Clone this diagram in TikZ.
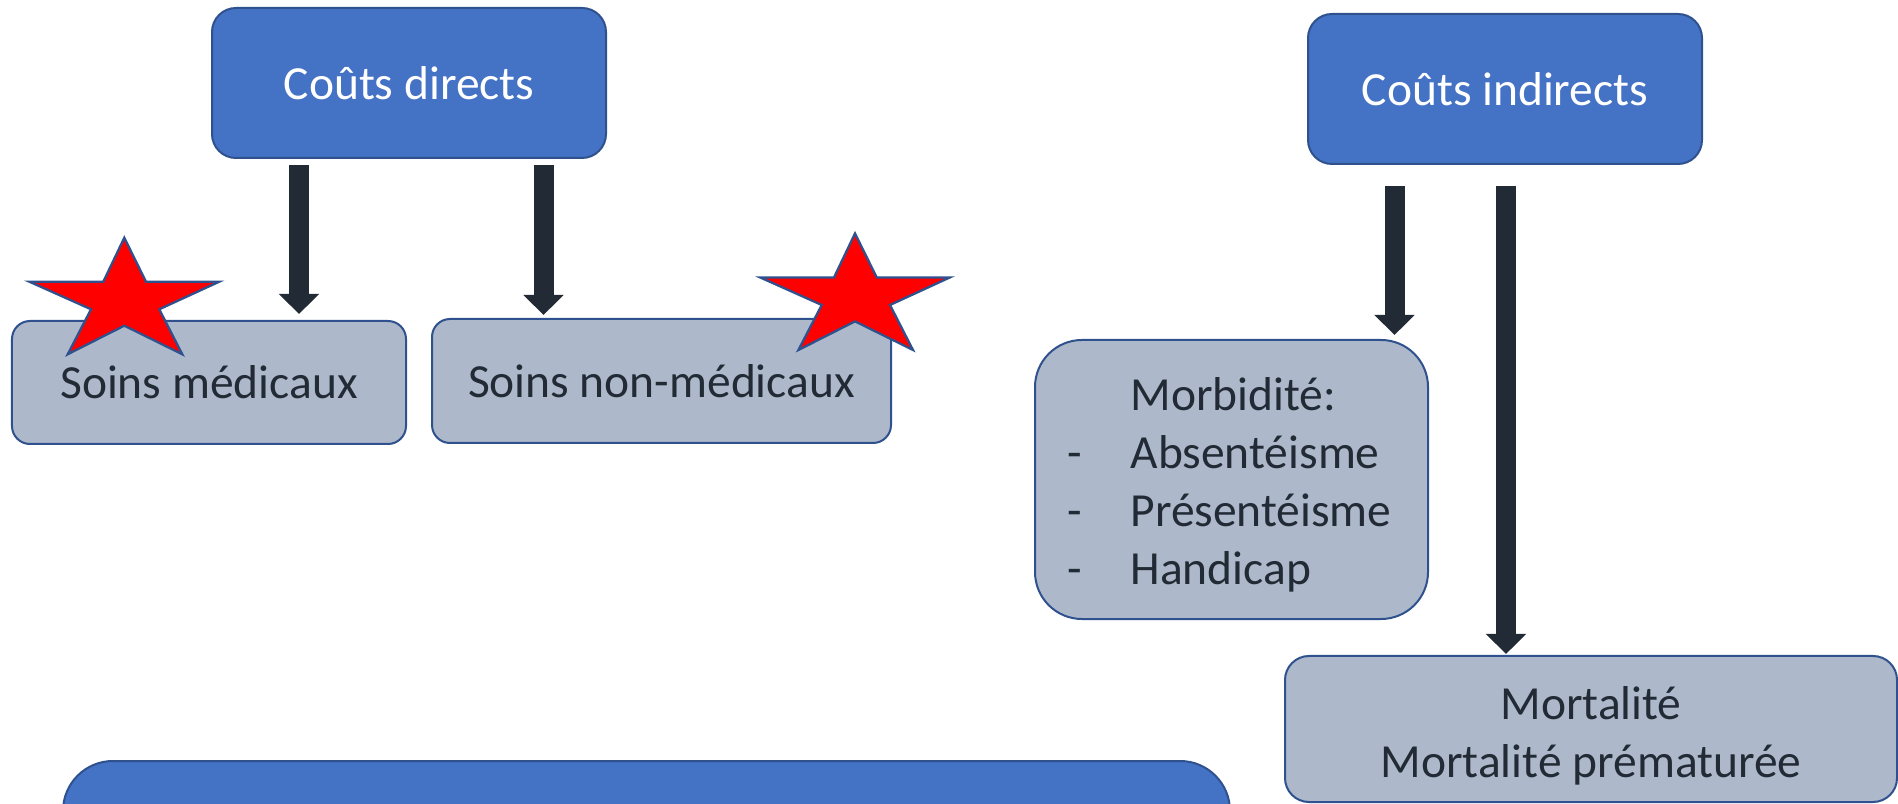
\documentclass[tikz,border=0pt]{standalone}
\usepackage{fontspec}
\setmainfont{Carlito}
\usetikzlibrary{arrows.meta,calc}
\definecolor{boxblue}{HTML}{4472C4}
\definecolor{edgeblue}{HTML}{2F528F}
\definecolor{boxgray}{HTML}{ADB9CA}
\definecolor{darktext}{HTML}{222A35}
\begin{document}
\begin{tikzpicture}[x=0.4pt,y=-0.4pt,
  basefont/.style={font=\fontsize{19}{23}\selectfont},
  bluebox/.style={draw=edgeblue, fill=boxblue, line width=0.8pt, rounded corners=9.6pt,
    text=white, basefont, inner sep=0pt},
  graybox/.style={draw=edgeblue, fill=boxgray, line width=0.8pt, rounded corners=7.2pt,
    text=darktext, basefont, inner sep=0pt},
  txt/.style={text=darktext, basefont, inner sep=0pt},
  blockarrow/.style={draw=darktext, line width=8pt, -{Triangle[width=15.6pt,length=8pt]}},
  starshape/.style={fill=red, draw=edgeblue, line width=0.9pt, line join=miter}
]
\path[use as bounding box] (0,0) rectangle (1898,804);
\clip (0,0) rectangle (1898,804);

% top boxes
\node[bluebox, minimum width=157.6pt, minimum height=60pt] (cd) at (409,83) {Coûts directs};
\node[bluebox, minimum width=157.6pt, minimum height=60pt] (ci) at (1505,89) {Coûts indirects};

% direct cost children
\node[graybox, minimum width=157.6pt, minimum height=49.2pt] (sm) at (209,382.5) {Soins médicaux};
\node[graybox, minimum width=183.6pt, minimum height=49.6pt] (snm) at (661.5,381) {Soins non-médicaux};

% indirect cost children
\node[graybox, rounded corners=18.8pt, minimum width=157.2pt, minimum height=111.6pt] (morb) at (1231.5,479.5) {};
\node[txt, anchor=base west] (m0) at (1130,411) {Morbidité:};
\node[txt, anchor=base west] (d1) at (1067,469) {-};
\node[txt, anchor=base west] (m1) at (1130,469) {Absentéisme};
\node[txt, anchor=base west] (d2) at (1067,527) {-};
\node[txt, anchor=base west] (m2) at (1130,527) {Présentéisme};
\node[txt, anchor=base west] (d3) at (1067,585) {-};
\node[txt, anchor=base west] (m3) at (1130,585) {Handicap};

\node[graybox, rounded corners=9.6pt, minimum width=244.8pt, minimum height=58.4pt] (mort) at (1591,729) {};
\node[txt, align=center] (morttxt) at ($(mort.center)+(0,7)$) {Mortalité\\Mortalité prématurée};

% bottom box (cut off)
\node[bluebox, rounded corners=20pt, minimum width=466.8pt, minimum height=80pt] (synth) at (646.5,861) {};

% arrows
\coordinate (ax1) at (299,0);
\coordinate (ax2) at (543.5,0);
\coordinate (ax3) at (1394.5,0);
\coordinate (ax4) at (1506,0);
\draw[blockarrow] ($(cd.south -| ax1)+(0,6)$) -- ($(sm.north -| ax1)+(0,-6)$);
\draw[blockarrow] ($(cd.south -| ax2)+(0,6)$) -- ($(snm.north -| ax2)+(0,-3)$);
\draw[blockarrow] ($(ci.south -| ax3)+(0,21)$) -- ($(morb.north -| ax3)+(0,-4)$);
\draw[blockarrow] ($(ci.south -| ax4)+(0,21)$) -- ($(mort.north -| ax4)+(0,-1)$);

% stars
\draw[starshape] (124.3,237.7) -- (146,281.7) -- (219.3,281.7) -- (159.3,309.3) -- (182.3,354.3)
  -- (124.3,325.7) -- (67.7,354.3) -- (91,309.3) -- (29.3,281.7) -- (103.3,281.7) -- cycle;
\begin{scope}[shift={(730.7,-4.3)}]
\draw[starshape] (124.3,237.7) -- (146,281.7) -- (219.3,281.7) -- (159.3,309.3) -- (182.3,354.3)
  -- (124.3,325.7) -- (67.7,354.3) -- (91,309.3) -- (29.3,281.7) -- (103.3,281.7) -- cycle;
\end{scope}
\end{tikzpicture}
\end{document}
